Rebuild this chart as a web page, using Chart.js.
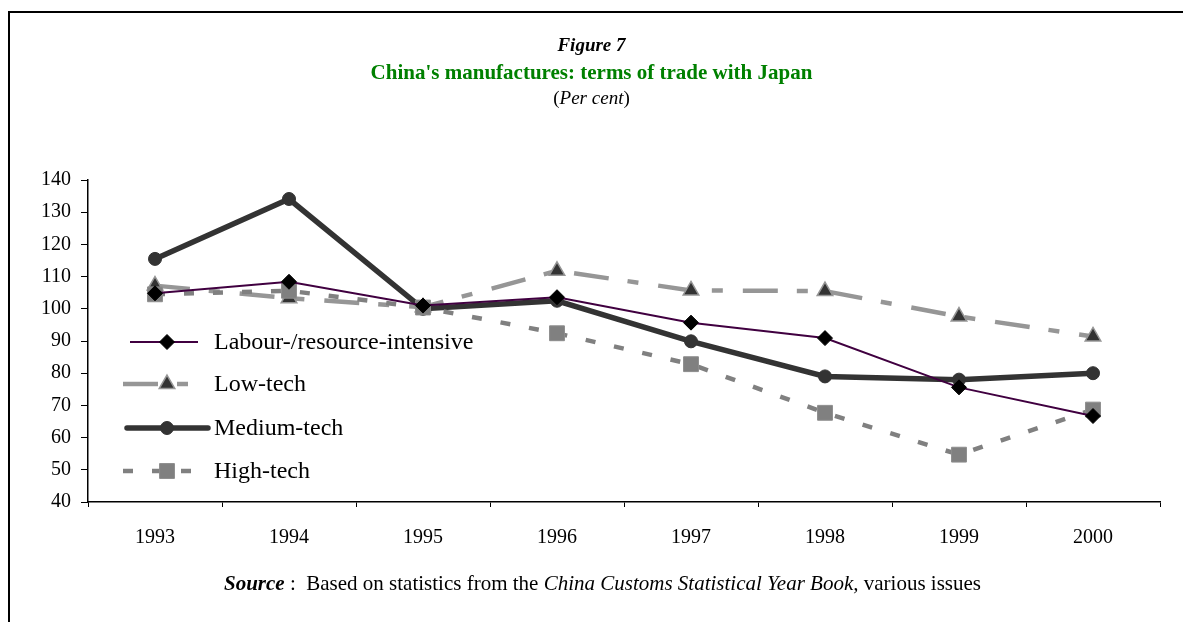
<!DOCTYPE html>
<html>
<head>
<meta charset="utf-8">
<title>Figure 7 - China's manufactures: terms of trade with Japan</title>
<script src="https://cdn.jsdelivr.net/npm/chart.js@4.4.0/dist/chart.umd.min.js"></script>
<style>
  html, body { margin:0; padding:0; background:#fff; }
  #wrap { position:relative; width:1183px; height:622px; overflow:hidden; font-family:'Liberation Serif','Times New Roman',serif; color:#000; }
  #chart { position:absolute; left:0; top:0; }
  .titles { position:absolute; left:0; top:32px; width:1183px; text-align:center; line-height:26.5px; }
  .fig { font-size:19px; font-weight:bold; font-style:italic; }
  .main { font-size:21px; font-weight:bold; color:#008000; }
  .unit { font-size:19px; }
  .source { position:absolute; left:224px; top:570px; font-size:21px; line-height:26px; white-space:nowrap; }
</style>
</head>
<body>
<div id="wrap">
  <canvas id="chart" width="1183" height="622"></canvas>
  <div class="titles">
    <div class="fig">Figure 7</div>
    <div class="main">China's manufactures: terms of trade with Japan</div>
    <div class="unit">(<i>Per cent</i>)</div>
  </div>
  <div class="source"><b><i>Source</i></b> :&nbsp; Based on statistics from the <i>China Customs Statistical Year Book,</i> various issues</div>
</div>
<script>
// values
const years = ['1993', '1994', '1995', '1996', '1997', '1998', '1999', '2000'];
const labour = [104.8, 108.4, 101.0, 103.6, 95.7, 90.9, 75.6, 66.7];
const lowTech = [107.2, 103.3, 100.5, 111.8, 105.7, 105.5, 97.6, 91.4];
const mediumTech = [115.5, 134.1, 100.0, 102.5, 89.9, 79.0, 78.0, 80.0];
const highTech = [104.5, 105.6, 100.4, 92.4, 82.8, 67.7, 54.7, 68.7];
const seriesNames = ['Labour-/resource-intensive', 'Low-tech', 'Medium-tech', 'High-tech'];

const serif = "'Liberation Serif', 'Times New Roman', serif";

// frame round the figure (left and top edge only, the rest is cut off)
const framePlugin = {
    id: 'frame',
    beforeDraw(chart) {
        const ctx = chart.ctx;
        ctx.save();
        ctx.fillStyle = '#fff';
        ctx.fillRect(0, 0, chart.width, chart.height);
        ctx.strokeStyle = '#000';
        ctx.lineWidth = 2;
        ctx.beginPath();
        ctx.moveTo(9, chart.height);
        ctx.lineTo(9, 12);
        ctx.lineTo(chart.width, 12);
        ctx.stroke();
        ctx.restore();
    }
};

// legend inside the plot area, like the original
const legendRows = [342, 384, 428, 471];
const insideLegend = {
    id: 'insideLegend',
    afterDatasetsDraw(chart) {
        const ctx = chart.ctx;
        chart.data.datasets.forEach((ds, i) => {
            const y = legendRows[i];
            ctx.save();
            ctx.strokeStyle = ds.borderColor;
            ctx.lineWidth = ds.borderWidth;
            ctx.setLineDash(ds.borderDash || []);
            ctx.lineCap = ds.legendCap || 'butt';
            ctx.beginPath();
            ctx.moveTo(ds.legendFrom, y);
            ctx.lineTo(ds.legendTo, y);
            ctx.stroke();
            ctx.setLineDash([]);
            ctx.fillStyle = ds.pointBackgroundColor;
            ctx.strokeStyle = ds.pointBorderColor;
            ctx.lineWidth = ds.pointBorderWidth;
            Chart.helpers.drawPoint(ctx, {
                pointStyle: ds.pointStyle,
                radius: ds.pointRadius,
                borderWidth: ds.pointBorderWidth,
                rotation: 0
            }, 167, y);
            ctx.fillStyle = '#000';
            ctx.font = '24px ' + serif;
            ctx.textBaseline = 'middle';
            ctx.fillText(seriesNames[i], 214, y + 1);
            ctx.restore();
        });
    }
};

new Chart(document.getElementById('chart'), {
    type: 'line',
    data: {
        labels: years,
        datasets: [
            {
                label: seriesNames[0], data: labour, order: 0,
                borderColor: '#400040', borderWidth: 2,
                pointStyle: 'rectRot', pointRadius: 7.5,
                pointBackgroundColor: '#000', pointBorderColor: '#000', pointBorderWidth: 1,
                legendFrom: 130, legendTo: 198
            },
            {
                label: seriesNames[1], data: lowTech, order: 3,
                borderColor: '#969696', borderWidth: 4.5, borderDash: [35, 19, 11, 20],
                pointStyle: 'triangle', pointRadius: 9,
                pointBackgroundColor: '#333', pointBorderColor: '#969696', pointBorderWidth: 1.5,
                legendFrom: 123, legendTo: 192
            },
            {
                label: seriesNames[2], data: mediumTech, order: 2,
                borderColor: '#333333', borderWidth: 5.5,
                pointStyle: 'circle', pointRadius: 6.5,
                pointBackgroundColor: '#333', pointBorderColor: '#333', pointBorderWidth: 1,
                legendFrom: 127, legendTo: 208, legendCap: 'round'
            },
            {
                label: seriesNames[3], data: highTech, order: 1,
                borderColor: '#808080', borderWidth: 4.5, borderDash: [10, 19],
                pointStyle: 'rect', pointRadius: 10.5,
                pointBackgroundColor: '#808080', pointBorderColor: '#8c8c8c', pointBorderWidth: 1,
                legendFrom: 123, legendTo: 197
            }
        ]
    },
    options: {
        responsive: false,
        animation: false,
        layout: { padding: { left: 0, top: 180, right: 23, bottom: 0 } },
        plugins: {
            legend: { display: false },
            tooltip: { enabled: false }
        },
        scales: {
            x: {
                offset: true,
                grid: { offset: true, drawOnChartArea: false, tickLength: 5, color: '#000' },
                border: { color: '#000', width: 1.5 },
                ticks: { color: '#000', font: { family: serif, size: 20 }, padding: 19, maxRotation: 0 },
                afterFit(scale) { scale.height = 120; }
            },
            y: {
                min: 40, max: 140,
                grid: { drawOnChartArea: false, tickLength: 7, color: '#000' },
                border: { color: '#000', width: 1.5 },
                ticks: { stepSize: 10, color: '#000', font: { family: serif, size: 20 }, padding: 10 },
                afterFit(scale) { scale.width = 88; }
            }
        }
    },
    plugins: [framePlugin, insideLegend]
});
</script>
</body>
</html>
